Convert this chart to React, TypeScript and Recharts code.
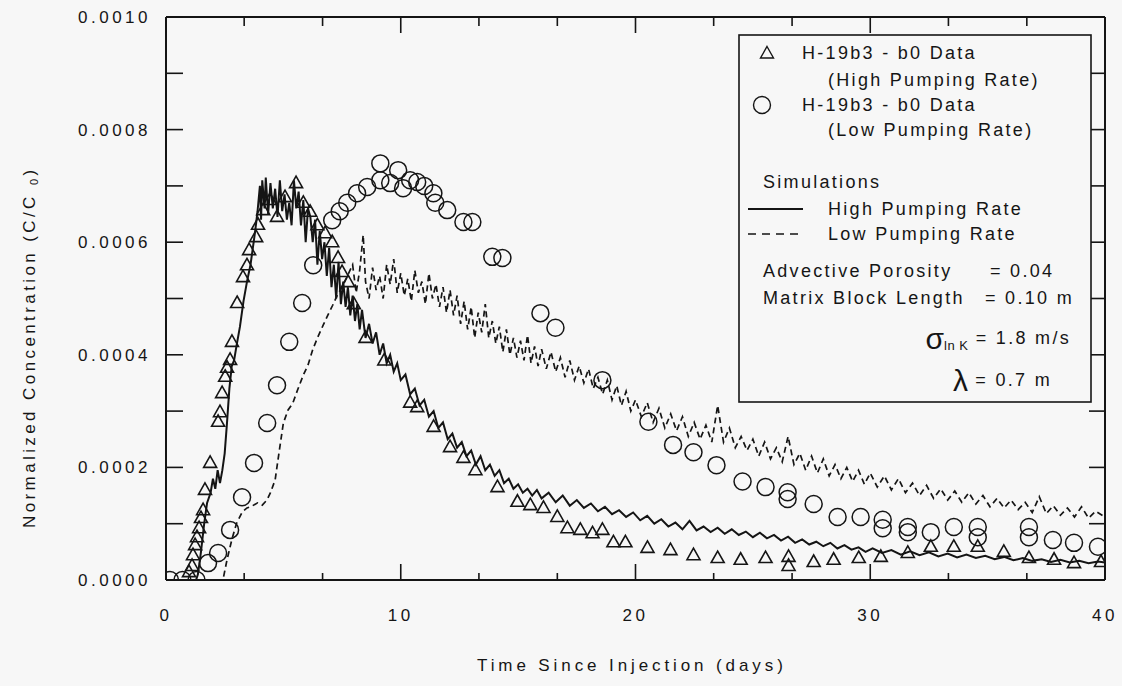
import { ComposedChart, Line, Scatter, XAxis, YAxis } from 'recharts'

// [time since injection (days), C/C0 in units of 1e-4]
const highSim: [number, number][] = [
  [0, 0], [1.0, 0], [1.28, 0], [1.36, 0.1], [1.49, 0.5], [1.62, 0.98], [1.75, 1.37], [1.9, 1.55],
  [2.0, 1.8], [2.1, 1.62], [2.2, 1.95], [2.3, 1.72], [2.4, 1.95], [2.5, 2.25], [2.6, 2.8], [2.7, 3.4],
  [2.8, 3.8], [2.9, 3.9], [3.0, 4.15], [3.15, 4.5], [3.3, 4.95], [3.45, 5.3], [3.6, 5.6], [3.7, 5.9],
  [3.8, 6.2], [3.9, 6.55], [4.0, 7.0], [4.05, 6.4], [4.1, 7.1], [4.2, 6.6], [4.25, 7.15], [4.35, 6.5],
  [4.45, 7.05], [4.55, 6.6], [4.65, 6.95], [4.75, 6.45], [4.85, 7.1], [4.95, 6.55], [5.05, 6.85],
  [5.15, 6.4], [5.25, 6.7], [5.35, 6.3], [5.45, 7.1], [5.55, 6.6], [5.65, 6.9], [5.75, 6.3], [5.85, 6.75],
  [5.95, 6.0], [6.05, 6.6], [6.15, 6.45], [6.25, 6.0], [6.35, 6.4], [6.45, 5.6], [6.55, 6.2], [6.65, 5.7],
  [6.75, 6.0], [6.85, 5.4], [6.95, 5.9], [7.05, 5.2], [7.15, 5.6], [7.25, 5.0], [7.35, 5.65], [7.45, 4.9],
  [7.55, 5.3], [7.65, 4.85], [7.75, 5.2], [7.85, 4.7], [7.95, 5.05], [8.05, 4.6], [8.15, 4.9], [8.25, 4.45],
  [8.35, 4.8], [8.5, 4.3], [8.65, 4.55], [8.8, 4.2], [8.95, 4.4], [9.1, 4.0], [9.25, 4.2], [9.4, 3.85],
  [9.55, 4.0], [9.7, 3.7], [9.85, 3.85], [10.0, 3.55], [10.2, 3.65], [10.4, 3.3], [10.6, 3.4], [10.8, 3.1],
  [11.0, 3.2], [11.2, 2.9], [11.4, 3.0], [11.6, 2.7], [11.8, 2.8], [12.0, 2.5], [12.2, 2.6], [12.4, 2.35],
  [12.6, 2.45], [12.8, 2.2], [13.0, 2.3], [13.2, 2.05], [13.4, 2.2], [13.6, 1.95], [13.8, 2.05], [14.0, 1.85],
  [14.2, 1.95], [14.4, 1.72], [14.6, 1.8], [14.8, 1.62], [15.0, 1.7], [15.2, 1.55], [15.4, 1.62], [15.6, 1.5],
  [15.8, 1.6], [16.0, 1.45], [16.3, 1.55], [16.6, 1.38], [16.9, 1.5], [17.2, 1.32], [17.5, 1.42], [17.8, 1.28],
  [18.1, 1.36], [18.4, 1.22], [18.7, 1.3], [19.0, 1.17], [19.3, 1.24], [19.6, 1.12], [19.9, 1.2], [20.2, 1.06],
  [20.5, 1.14], [20.8, 1.0], [21.1, 1.08], [21.4, 0.95], [21.7, 1.02], [22.0, 0.9], [22.3, 1.05], [22.6, 0.88],
  [22.9, 0.95], [23.2, 0.85], [23.5, 0.93], [23.8, 0.82], [24.1, 0.9], [24.4, 0.8], [24.7, 0.86], [25.0, 0.76],
  [25.3, 0.84], [25.6, 0.74], [25.9, 0.8], [26.2, 0.7], [26.5, 0.77], [26.8, 0.66], [27.1, 0.72], [27.4, 0.63],
  [27.7, 0.68], [28.0, 0.6], [28.3, 0.66], [28.6, 0.56], [28.9, 0.62], [29.2, 0.54], [29.5, 0.58], [29.8, 0.5],
  [30.1, 0.56], [30.5, 0.48], [30.9, 0.53], [31.3, 0.45], [31.7, 0.51], [32.1, 0.44], [32.5, 0.49], [32.9, 0.42],
  [33.3, 0.47], [33.7, 0.4], [34.1, 0.45], [34.5, 0.39], [34.9, 0.43], [35.3, 0.37], [35.7, 0.41], [36.1, 0.35],
  [36.5, 0.39], [36.9, 0.34], [37.3, 0.37], [37.7, 0.32], [38.1, 0.36], [38.5, 0.31], [38.9, 0.34], [39.3, 0.3],
  [39.7, 0.33], [40.0, 0.31],
]

const lowSim: [number, number][] = [
  [0, 0], [2.4, 0], [2.45, 0.05], [2.6, 0.36], [2.8, 0.71], [3.0, 1.0], [3.25, 1.21], [3.45, 1.28],
  [3.65, 1.31], [3.9, 1.37], [4.1, 1.33], [4.3, 1.42], [4.45, 1.55], [4.65, 1.78], [4.8, 2.22], [5.0, 2.79],
  [5.2, 3.02], [5.4, 3.14], [5.6, 3.37], [5.85, 3.64], [6.05, 3.82], [6.25, 4.09], [6.45, 4.3], [6.7, 4.53],
  [6.9, 4.71], [7.1, 4.88], [7.3, 5.06], [7.55, 5.24], [7.75, 5.42], [7.95, 5.6], [8.1, 5.1], [8.25, 5.5],
  [8.4, 6.13], [8.5, 5.3], [8.65, 5.0], [8.8, 5.55], [8.95, 5.15], [9.1, 5.4], [9.25, 5.0], [9.4, 5.6],
  [9.55, 5.25], [9.7, 5.7], [9.85, 5.1], [10.0, 5.45], [10.15, 5.05], [10.3, 5.35], [10.45, 4.95], [10.6, 5.5],
  [10.75, 5.1], [10.9, 5.3], [11.05, 4.9], [11.2, 5.45], [11.35, 5.0], [11.5, 5.25], [11.65, 4.85], [11.8, 5.2],
  [11.95, 4.75], [12.1, 5.15], [12.25, 4.7], [12.4, 5.05], [12.55, 4.55], [12.7, 4.95], [12.85, 4.45],
  [13.0, 4.85], [13.15, 4.3], [13.3, 4.75], [13.45, 4.4], [13.6, 4.9], [13.75, 4.3], [13.9, 4.6], [14.05, 4.2],
  [14.2, 4.5], [14.35, 4.05], [14.5, 4.45], [14.65, 4.0], [14.8, 4.3], [14.95, 3.95], [15.1, 4.25], [15.25, 3.9],
  [15.4, 4.35], [15.55, 3.85], [15.7, 4.15], [15.85, 3.8], [16.0, 4.1], [16.2, 3.75], [16.4, 4.05], [16.6, 3.7],
  [16.8, 3.95], [17.0, 3.6], [17.2, 3.9], [17.4, 3.55], [17.6, 3.8], [17.8, 3.5], [18.0, 3.75], [18.2, 3.4],
  [18.4, 3.6], [18.6, 3.3], [18.8, 3.55], [19.0, 3.2], [19.2, 3.45], [19.4, 3.1], [19.6, 3.35], [19.8, 3.0],
  [20.0, 3.2], [20.25, 2.9], [20.5, 3.15], [20.75, 2.8], [21.0, 3.05], [21.25, 2.7], [21.5, 2.95], [21.75, 2.65],
  [22.0, 2.9], [22.25, 2.55], [22.5, 2.8], [22.75, 2.5], [23.0, 2.75], [23.25, 2.45], [23.5, 3.1], [23.75, 2.45],
  [24.0, 2.7], [24.25, 2.35], [24.5, 2.55], [24.75, 2.3], [25.0, 2.5], [25.25, 2.2], [25.5, 2.45], [25.75, 2.15],
  [26.0, 2.35], [26.25, 2.1], [26.5, 2.55], [26.75, 2.05], [27.0, 2.25], [27.25, 1.95], [27.5, 2.2], [27.75, 1.9],
  [28.0, 2.15], [28.25, 1.85], [28.5, 2.05], [28.75, 1.8], [29.0, 2.0], [29.25, 1.75], [29.5, 1.95], [29.75, 1.7],
  [30.0, 1.9], [30.3, 1.65], [30.6, 1.85], [30.9, 1.6], [31.2, 1.8], [31.5, 1.55], [31.8, 1.72], [32.1, 1.5],
  [32.4, 1.68], [32.7, 1.45], [33.0, 1.62], [33.3, 1.42], [33.6, 1.58], [33.9, 1.38], [34.2, 1.55], [34.5, 1.35],
  [34.8, 1.5], [35.1, 1.3], [35.4, 1.45], [35.7, 1.28], [36.0, 1.42], [36.3, 1.25], [36.6, 1.38], [36.9, 1.2],
  [37.2, 1.48], [37.5, 1.18], [37.8, 1.32], [38.1, 1.15], [38.4, 1.28], [38.7, 1.12], [39.0, 1.3], [39.3, 1.1],
  [39.6, 1.22], [40.0, 1.12],
]

// H-19b3 - b0 data, high pumping rate (triangles)
const highData: [number, number][] = [
  [0.98, 0.14], [1.11, 0.25], [1.15, 0.44], [1.24, 0.62], [1.32, 0.76], [1.41, 0.92], [1.49, 1.1], [1.58, 1.24],
  [1.66, 1.6], [1.88, 2.08], [2.22, 2.81], [2.3, 2.98], [2.39, 3.32], [2.52, 3.61], [2.6, 3.77], [2.73, 3.91],
  [2.81, 4.23], [3.03, 4.92], [3.28, 5.38], [3.45, 5.59], [3.54, 5.86], [3.84, 6.09], [3.92, 6.31], [4.14, 6.57],
  [4.43, 6.75], [4.73, 6.45], [5.07, 6.8], [5.54, 7.05], [5.85, 6.7], [6.14, 6.54], [6.45, 6.3], [6.78, 6.16],
  [7.08, 6.0], [7.33, 5.72], [7.5, 5.47], [7.76, 5.29], [8.0, 4.9], [8.5, 4.3], [9.3, 3.9], [10.4, 3.15],
  [10.7, 3.07], [11.4, 2.72], [12.1, 2.36], [12.67, 2.17], [13.18, 1.95], [14.12, 1.65], [14.97, 1.39],
  [15.52, 1.33], [16.08, 1.28], [16.67, 1.12], [17.1, 0.92], [17.65, 0.89], [18.17, 0.83], [18.59, 0.89],
  [19.06, 0.67], [19.57, 0.67], [20.51, 0.57], [21.49, 0.53], [22.47, 0.44], [23.5, 0.39], [24.48, 0.36],
  [25.54, 0.39], [26.52, 0.41], [26.52, 0.25], [27.59, 0.32], [28.44, 0.36], [29.51, 0.39], [30.45, 0.41],
  [31.6, 0.48], [32.58, 0.59], [33.56, 0.59], [34.58, 0.59], [35.69, 0.5], [36.76, 0.39], [37.83, 0.36],
  [38.68, 0.3], [39.83, 0.32],
]

// H-19b3 - b0 data, low pumping rate (circles)
const lowData: [number, number][] = [
  [0.17, 0], [0.7, 0], [1.3, 0], [1.79, 0.3], [2.22, 0.48], [2.73, 0.89], [3.24, 1.47], [3.75, 2.08],
  [4.31, 2.79], [4.73, 3.46], [5.25, 4.23], [5.8, 4.92], [6.27, 5.59], [7.08, 6.39], [7.4, 6.55], [7.72, 6.7],
  [8.14, 6.87], [8.57, 6.98], [9.13, 7.4], [9.13, 7.1], [9.55, 7.05], [9.89, 7.28], [10.1, 6.96], [10.4, 7.1],
  [10.7, 7.07], [11.0, 7.0], [11.39, 6.87], [11.47, 6.7], [11.98, 6.57], [12.67, 6.36], [13.05, 6.36],
  [13.9, 5.74], [14.33, 5.72], [15.95, 4.74], [16.59, 4.48], [18.59, 3.55], [20.55, 2.81], [21.6, 2.4],
  [22.47, 2.27], [23.45, 2.04], [24.56, 1.75], [25.54, 1.65], [26.48, 1.56], [26.48, 1.44], [27.59, 1.35],
  [28.61, 1.12], [29.59, 1.12], [30.53, 1.07], [30.53, 0.92], [31.6, 0.94], [31.6, 0.85], [32.58, 0.85],
  [33.56, 0.94], [34.58, 0.94], [34.58, 0.76], [36.76, 0.94], [36.76, 0.76], [37.78, 0.71], [38.68, 0.66],
  [39.7, 0.59],
]

const xTicks = [0, 3.33, 6.67, 10, 13.33, 16.67, 20, 23.33, 26.67, 30, 33.33, 36.67, 40]
const xLabelTicks = [0, 10, 20, 30, 40]
const yTicks = [0, 1, 2, 3, 4, 5, 6, 7, 8, 9, 10]
const yLabelTicks = [0, 2, 4, 6, 8, 10]

const INK = '#151515'
const BG = '#f7f7f7'
const FONT = "'Liberation Sans', Arial, Helvetica, sans-serif"

const toPoints = (rows: [number, number][]) => rows.map(([d, c]) => ({ d, c }))

function BottomTick({ x, y, payload }: any) {
  const major = xLabelTicks.includes(payload.value)
  return (
    <g>
      <line x1={x} x2={x} y1={y} y2={y - (major ? 16 : 7)} stroke={INK} strokeWidth={1.6} />
      {major && (
        <text x={x} y={y + 41} textAnchor="middle" fontSize={17} letterSpacing={3.5} fill={INK} fontFamily={FONT}>
          {payload.value}
        </text>
      )}
    </g>
  )
}

function TopTick({ x, y, payload }: any) {
  const major = xLabelTicks.includes(payload.value)
  return <line x1={x} x2={x} y1={y} y2={y + (major ? 16 : 9)} stroke={INK} strokeWidth={1.6} />
}

function LeftTick({ x, y, payload }: any) {
  const v = payload.value
  return (
    <g>
      <line x1={x} x2={x + 17} y1={y} y2={y} stroke={INK} strokeWidth={1.6} />
      {yLabelTicks.includes(v) && (
        <text x={x - 15} y={y} dy="0.35em" textAnchor="end" fontSize={17} letterSpacing={3.5} fill={INK} fontFamily={FONT}>
          {(v * 1e-4).toFixed(4)}
        </text>
      )}
    </g>
  )
}

function RightTick({ x, y }: any) {
  return <line x1={x} x2={x - 16} y1={y} y2={y} stroke={INK} strokeWidth={1.6} />
}

const TriangleMark = (p: any) => (
  <path
    d={`M${p.cx},${p.cy - 7} L${p.cx + 6.5},${p.cy + 4.5} L${p.cx - 6.5},${p.cy + 4.5} Z`}
    fill="none"
    stroke={INK}
    strokeWidth={1.6}
  />
)

const CircleMark = (p: any) => <circle cx={p.cx} cy={p.cy} r={8.5} fill="none" stroke={INK} strokeWidth={1.5} />

function Overlay() {
  const t = { fontFamily: FONT, fill: INK, fontSize: 18, letterSpacing: 2.3, dominantBaseline: 'central' as const }
  return (
    <svg width={1122} height={686} style={{ position: 'absolute', left: 0, top: 0, pointerEvents: 'none' }}>
      {/* axis titles */}
      <text x={477} y={665} dominantBaseline="central" fontSize={17} letterSpacing={3.9} fill={INK} fontFamily={FONT}>
        Time Since Injection (days)
      </text>
      <text
        transform="translate(29,528) rotate(-90)"
        dominantBaseline="central"
        fontSize={17}
        letterSpacing={3.4}
        fill={INK}
        fontFamily={FONT}
      >
        Normalized Concentration (C/C <tspan fontSize={11} dy={5}>0</tspan>
        <tspan dy={-5}>)</tspan>
      </text>

      {/* legend box */}
      <rect x={739} y={35} width={352} height={367} fill={BG} stroke={INK} strokeWidth={1.6} />
      <path d="M767,46.5 L773.5,58 L760.5,58 Z" fill="none" stroke={INK} strokeWidth={1.4} />
      <text x={802} y={53} {...t}>H-19b3 - b0 Data</text>
      <text x={828} y={80} {...t}>(High Pumping Rate)</text>
      <circle cx={762} cy={105} r={8.5} fill="none" stroke={INK} strokeWidth={1.4} />
      <text x={802} y={105} {...t}>H-19b3 - b0 Data</text>
      <text x={828} y={130} {...t}>(Low Pumping Rate)</text>
      <text x={763} y={182} {...t}>Simulations</text>
      <line x1={748} x2={803} y1={209} y2={209} stroke={INK} strokeWidth={1.8} />
      <text x={828} y={209} {...t}>High Pumping Rate</text>
      <line x1={748} x2={803} y1={234} y2={234} stroke={INK} strokeWidth={1.6} strokeDasharray="8 6" />
      <text x={828} y={234} {...t}>Low Pumping Rate</text>
      <text x={763} y={271} {...t}>Advective Porosity</text>
      <text x={990} y={271} {...t}>= 0.04</text>
      <text x={763} y={298} {...t}>Matrix Block Length</text>
      <text x={985} y={298} {...t}>= 0.10 m</text>
      <text x={1071} y={338} textAnchor="end" {...t}>
        <tspan fontSize={30} letterSpacing={0}>σ</tspan>
        <tspan fontSize={13} letterSpacing={0.5} dy={7}>ln K</tspan>
        <tspan dy={-7}> = 1.8 m/s</tspan>
      </text>
      <text x={1052} y={380} textAnchor="end" {...t}>
        <tspan fontSize={30} letterSpacing={0}>λ</tspan>
        <tspan> = 0.7 m</tspan>
      </text>
    </svg>
  )
}

export default function App() {
  return (
    <div style={{ position: 'absolute', left: 0, top: 0, width: 1122, height: 686, background: BG }}>
      <ComposedChart width={1122} height={686} margin={{ top: 16, right: 16, bottom: 0, left: 0 }}>
        <XAxis
          xAxisId="b"
          type="number"
          dataKey="d"
          domain={[0, 40]}
          allowDataOverflow
          ticks={xTicks}
          interval={0}
          tickSize={0}
          tickMargin={0}
          tickLine={false}
          tick={<BottomTick />}
          height={106}
          axisLine={{ stroke: INK, strokeWidth: 2 }}
        />
        <XAxis
          xAxisId="t"
          orientation="top"
          type="number"
          dataKey="d"
          domain={[0, 40]}
          allowDataOverflow
          ticks={xTicks}
          interval={0}
          tickSize={0}
          tickMargin={0}
          tickLine={false}
          tick={<TopTick />}
          height={1}
          axisLine={{ stroke: INK, strokeWidth: 2 }}
        />
        <YAxis
          yAxisId="l"
          type="number"
          dataKey="c"
          domain={[0, 10]}
          allowDataOverflow
          ticks={yTicks}
          interval={0}
          tickSize={0}
          tickMargin={0}
          tickLine={false}
          tick={<LeftTick />}
          width={166}
          axisLine={{ stroke: INK, strokeWidth: 2 }}
        />
        <YAxis
          yAxisId="r"
          orientation="right"
          type="number"
          dataKey="c"
          domain={[0, 10]}
          allowDataOverflow
          ticks={yTicks}
          interval={0}
          tickSize={0}
          tickMargin={0}
          tickLine={false}
          tick={<RightTick />}
          width={1}
          axisLine={{ stroke: INK, strokeWidth: 2 }}
        />

        <Line
          xAxisId="b"
          yAxisId="l"
          data={toPoints(lowSim)}
          dataKey="c"
          type="linear"
          stroke={INK}
          strokeWidth={1.7}
          strokeDasharray="6 4"
          dot={false}
          activeDot={false}
          isAnimationActive={false}
        />
        <Line
          xAxisId="b"
          yAxisId="l"
          data={toPoints(highSim)}
          dataKey="c"
          type="linear"
          stroke={INK}
          strokeWidth={2}
          dot={false}
          activeDot={false}
          isAnimationActive={false}
        />
        <Scatter
          xAxisId="b"
          yAxisId="l"
          data={toPoints(highData)}
          dataKey="c"
          shape={TriangleMark}
          isAnimationActive={false}
        />
        <Scatter
          xAxisId="b"
          yAxisId="l"
          data={toPoints(lowData)}
          dataKey="c"
          shape={CircleMark}
          isAnimationActive={false}
        />
      </ComposedChart>
      <Overlay />
    </div>
  )
}
